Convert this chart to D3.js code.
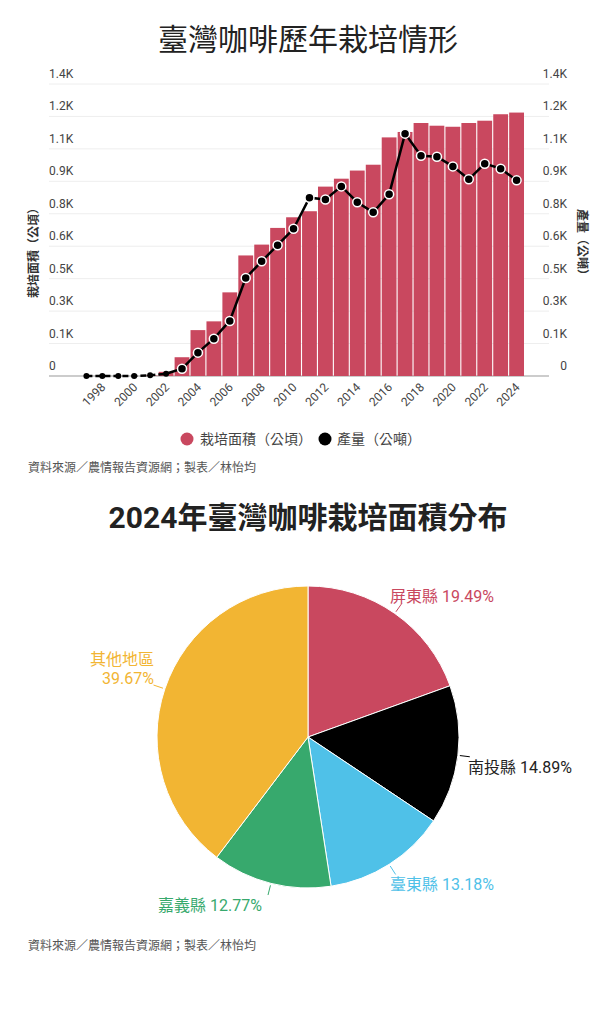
<!DOCTYPE html>
<html><head><meta charset="utf-8">
<script src="https://cdn.jsdelivr.net/npm/d3@7"></script>
<style>body{margin:0;background:#fff;font-family:Roboto,"Noto Sans CJK TC",sans-serif;}</style>
</head><body>
<svg id="c" width="616" height="1024"></svg>
<script>
const years = d3.range(1997, 2025);
const areaValues = [0,0,0,0,2,20,90,220,262,401,578,630,710,761,790,908,946,985,1013,1144,1170,1213,1200,1195,1213,1224,1255,1263];
const outputValues = [0,0,0,0,3,11,35,112,179,264,470,550,627,706,855,846,909,833,785,871,1162,1056,1051,1005,943,1018,994,938];
const tickLabels = ["0","0.1K","0.3K","0.5K","0.6K","0.8K","0.9K","1.1K","1.2K","1.4K"];
const pieNames = ["屏東縣","南投縣","臺東縣","嘉義縣","其他地區"];
const pieValues = [19.49,14.89,13.18,12.77,39.67];
const pieColors = ["#c9485f","#000000","#4fc1e8","#37a96d","#f2b533"];

const svg = d3.select("#c");
const font = 'Roboto,"Noto Sans CJK TC",sans-serif';
svg.append("text").attr("x",308).attr("y",50).attr("text-anchor","middle")
  .attr("font-size",30).attr("fill","#222").attr("font-family",font).text("臺灣咖啡歷年栽培情形");

const x = d3.scaleBand().domain(years).range([79,524]).paddingInner(0.07);
const y = d3.scaleLinear().domain([0,1400]).range([376,84]);
const tickVals = d3.range(10).map(i=>i*1400/9);

const g = svg.append("g");
tickVals.forEach((t,i)=>{
  g.append("line").attr("x1",49).attr("x2",549).attr("y1",y(t)).attr("y2",y(t))
   .attr("stroke", i===0?"#999":"#eee").attr("stroke-width",1);
  g.append("text").attr("x",49).attr("y",y(t)-6).attr("font-size",12).attr("fill","#444").text(tickLabels[i]);
  g.append("text").attr("x",567).attr("y",y(t)-6).attr("text-anchor","end").attr("font-size",12).attr("fill","#444").text(tickLabels[i]);
});
g.selectAll("rect.bar").data(years).enter().append("rect")
  .attr("x",d=>x(d)).attr("width",x.bandwidth())
  .attr("y",(d,i)=>y(areaValues[i])).attr("height",(d,i)=>y(0)-y(areaValues[i]))
  .attr("fill","#c9485f");
const cx = d=>x(d)+x.bandwidth()/2;
const line = d3.line().x(d=>cx(d.y)).y(d=>y(d.v));
const pts = years.map((yr,i)=>({y:yr,v:outputValues[i]}));
g.append("path").datum(pts.slice(0,6)).attr("d",line).attr("fill","none").attr("stroke","#000").attr("stroke-width",2.5).attr("stroke-dasharray","6,3");
g.append("path").datum(pts.slice(5)).attr("d",line).attr("fill","none").attr("stroke","#000").attr("stroke-width",2.5);
g.selectAll("circle.pt").data(pts).enter().append("circle")
  .attr("cx",d=>cx(d.y)).attr("cy",d=>y(d.v)).attr("r",(d,i)=>i<6?3:4.5)
  .attr("fill","#000").attr("stroke","#fff").attr("stroke-width",(d,i)=>i<6?0:1.5);
years.filter(d=>d%2===0).forEach(d=>{
  g.append("text").attr("transform",`translate(${cx(d)+4},${388}) rotate(-45)`)
   .attr("text-anchor","end").attr("font-size",12).attr("fill","#444").text(d);
});
g.append("text").attr("transform","translate(38,250) rotate(-90)").attr("text-anchor","middle")
 .attr("font-size",12).attr("font-weight","bold").attr("fill","#333").text("栽培面積（公頃）");
g.append("text").attr("transform","translate(578,245) rotate(90)").attr("text-anchor","middle")
 .attr("font-size",12).attr("font-weight","bold").attr("fill","#333").text("產量（公噸）");
// legend
g.append("circle").attr("cx",187).attr("cy",439).attr("r",6.5).attr("fill","#c9485f");
g.append("text").attr("x",200).attr("y",444).attr("font-size",14).attr("fill","#444").text("栽培面積（公頃）");
g.append("circle").attr("cx",325).attr("cy",439).attr("r",6.5).attr("fill","#000");
g.append("text").attr("x",337).attr("y",444).attr("font-size",14).attr("fill","#444").text("產量（公噸）");
svg.append("text").attr("x",28).attr("y",472).attr("font-size",12).attr("fill","#555").text("資料來源／農情報告資源網；製表／林怡均");

// pie
svg.append("text").attr("x",308).attr("y",528).attr("text-anchor","middle")
  .attr("font-size",30).attr("font-weight","bold").attr("fill","#222").text("2024年臺灣咖啡栽培面積分布");
const pcx=308, pcy=737, R=151;
const pie = d3.pie().sort(null)(pieValues);
const arc = d3.arc().innerRadius(0).outerRadius(R);
const pg = svg.append("g").attr("transform",`translate(${pcx},${pcy})`);
pg.selectAll("path").data(pie).enter().append("path").attr("d",arc)
  .attr("fill",(d,i)=>pieColors[i]).attr("stroke","#fff").attr("stroke-width",1);
const labelPos = [[390,602,"start"],[468,773,"start"],[390,890,"start"],[158,911,"start"],[154,0,"end"]];
pie.forEach((d,i)=>{
  const a=(d.startAngle+d.endAngle)/2;
  const p1=[Math.sin(a)*(R+2),-Math.cos(a)*(R+2)], p2=[Math.sin(a)*(R+12),-Math.cos(a)*(R+12)];
  pg.append("line").attr("x1",p1[0]).attr("y1",p1[1]).attr("x2",p2[0]).attr("y2",p2[1]).attr("stroke",pieColors[i]);
  const [lx,ly,an]=labelPos[i];
  if(i===4){
    svg.append("text").attr("x",lx).attr("y",665).attr("text-anchor","end").attr("font-size",16).attr("fill",pieColors[i]).text(pieNames[i]);
    svg.append("text").attr("x",lx).attr("y",684).attr("text-anchor","end").attr("font-size",16).attr("fill",pieColors[i]).text(pieValues[i].toFixed(2)+"%");
  } else {
    svg.append("text").attr("x",lx).attr("y",ly).attr("text-anchor",an).attr("font-size",16).attr("fill",pieColors[i]===("#000000")?"#222":pieColors[i]).text(pieNames[i]+" "+pieValues[i].toFixed(2)+"%");
  }
});
svg.append("text").attr("x",28).attr("y",950).attr("font-size",12).attr("fill","#555").text("資料來源／農情報告資源網；製表／林怡均");
</script></body></html>
